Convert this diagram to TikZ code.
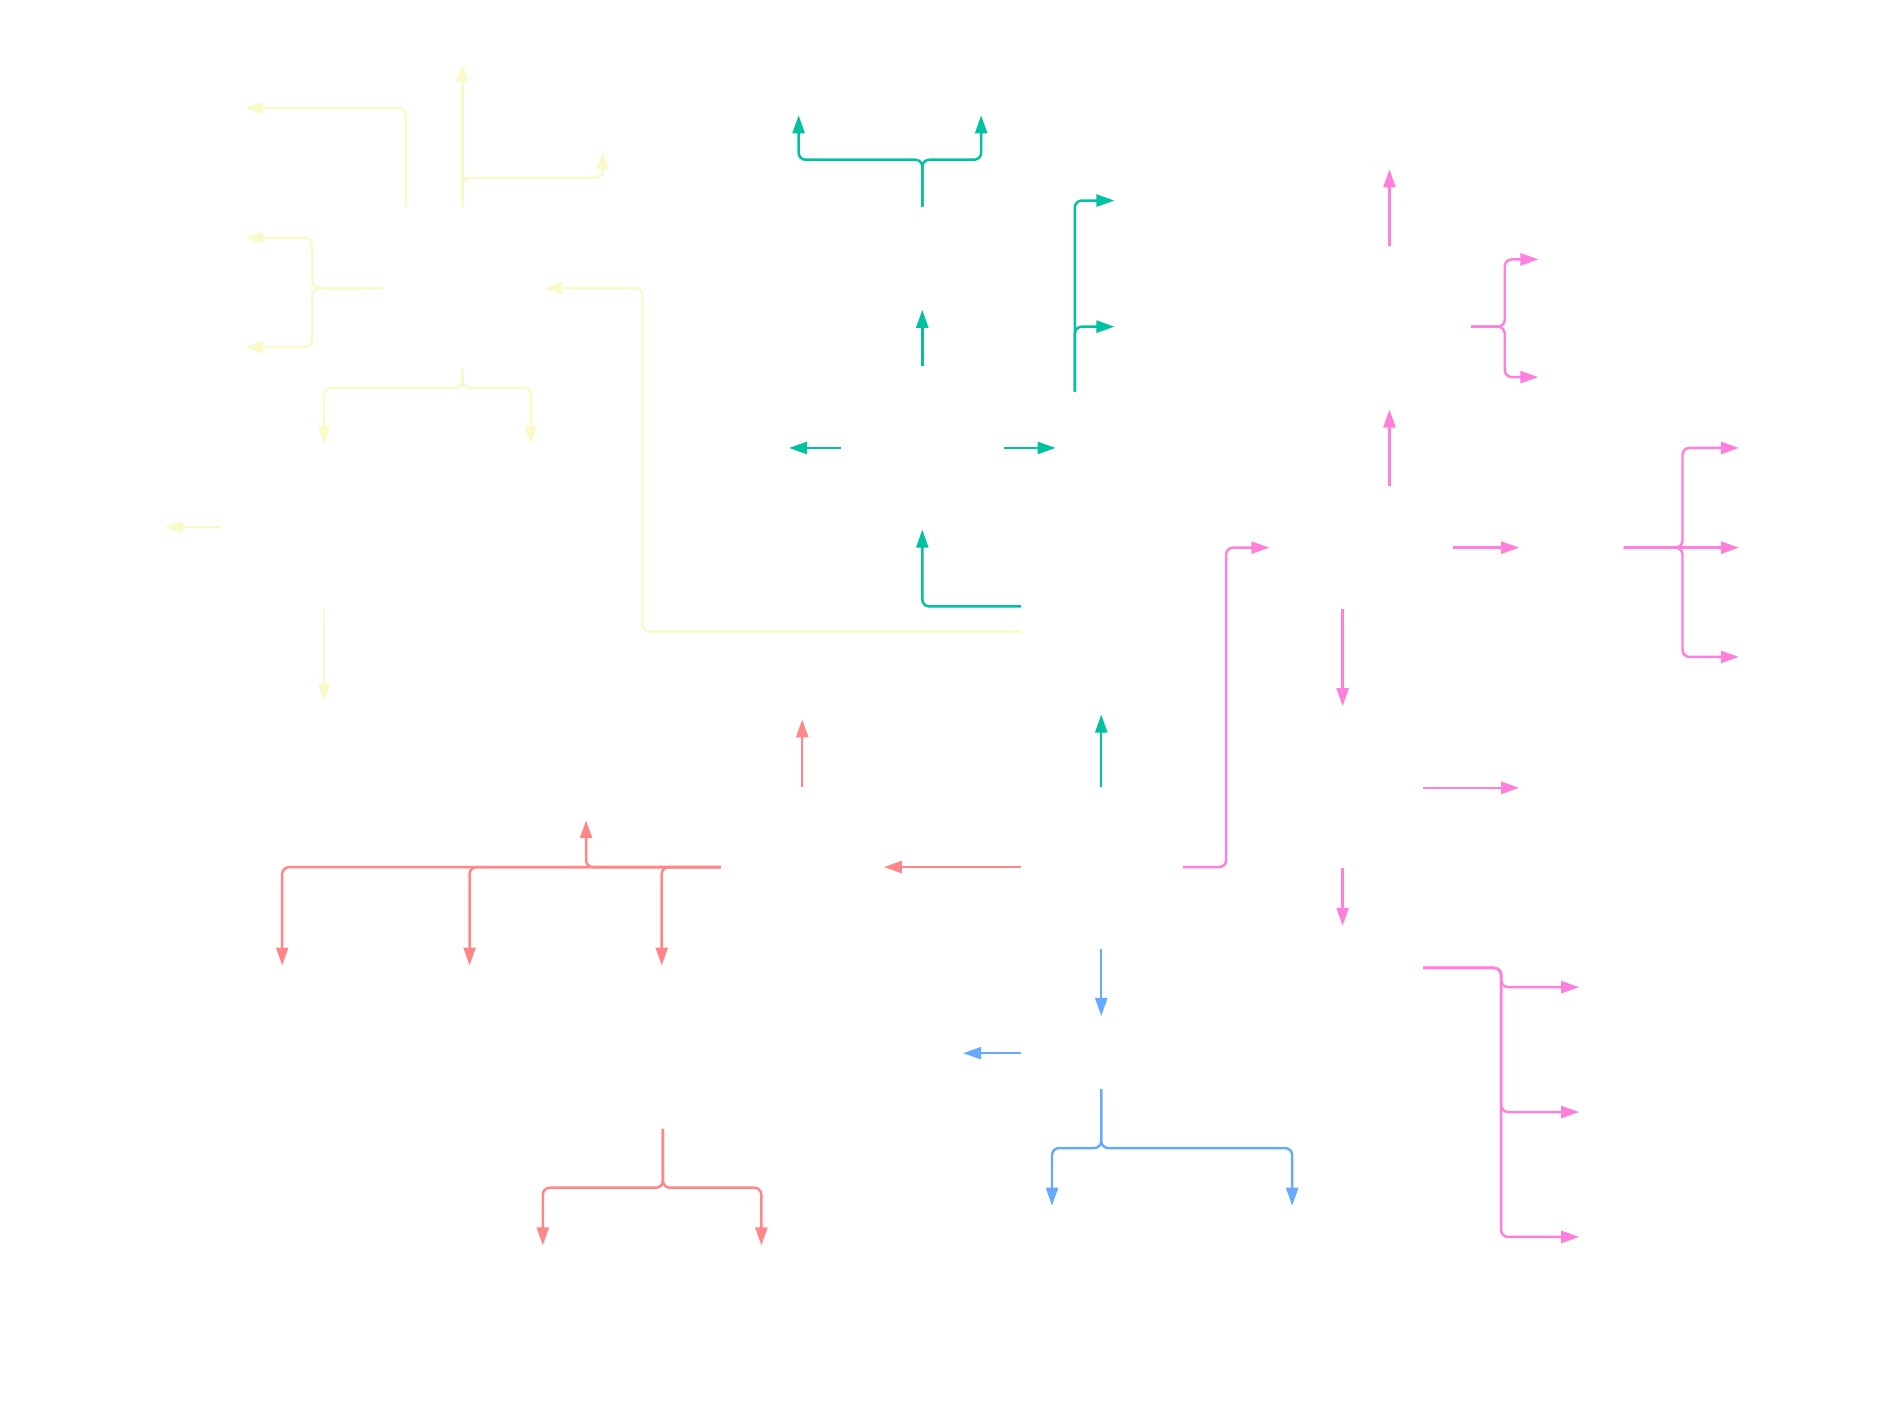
\documentclass[tikz,border=0pt]{standalone}
\usetikzlibrary{arrows.meta}
\definecolor{cYellow}{RGB}{250,250,200}
\definecolor{cTeal}{RGB}{0,194,163}
\definecolor{cRed}{RGB}{255,135,135}
\definecolor{cBlue}{RGB}{102,170,255}
\definecolor{cPink}{RGB}{255,128,220}
\begin{document}
\begin{tikzpicture}[x=0.012009cm,y=-0.012009cm,
  link/.style={line width=0.7pt, rounded corners=0.07cm,
    -{Triangle[length=0.18cm,width=0.12cm]}},
  ylink/.style={link, draw=cYellow, fill=none},
  tlink/.style={link, draw=cTeal},
  rlink/.style={link, draw=cRed},
  blink/.style={link, draw=cBlue},
  plink/.style={link, draw=cPink}]
\useasboundingbox (0,0) rectangle (1568,1174);

% ---------- yellow branch ----------
\coordinate (yA) at (338,172);  \coordinate (yA1) at (204,90);
\coordinate (yB) at (385,172);  \coordinate (yB1) at (385,53);  \coordinate (yB2) at (502,126);
\coordinate (yC) at (318,240);  \coordinate (yC1) at (204,198); \coordinate (yC2) at (204,289);
\coordinate (yD) at (385,307);  \coordinate (yD1) at (270,370); \coordinate (yD2) at (442,370);
\coordinate (yE) at (184,439);  \coordinate (yE1) at (137,439);
\coordinate (yF) at (270,507);  \coordinate (yF1) at (270,584);
\coordinate (yG) at (850,526);  \coordinate (yG1) at (453,240);
\draw[ylink] (yA) |- (yA1);
\draw[ylink] (yB) -- (yB1);
\draw[ylink] (yB) -- ++(0,-24) -| (yB2);
\draw[ylink] (yC) -- ++(-58,0) |- (yC1);
\draw[ylink] (yC) -- ++(-58,0) |- (yC2);
\draw[ylink] (yD) -- ++(0,16) -| (yD1);
\draw[ylink] (yD) -- ++(0,16) -| (yD2);
\draw[ylink] (yE) -- (yE1);
\draw[ylink] (yF) -- (yF1);
\draw[ylink] (yG) -- ++(-315,0) |- (yG1);

% ---------- teal branch ----------
\coordinate (tA) at (768,172);  \coordinate (tA1) at (665,96);  \coordinate (tA2) at (817,96);
\coordinate (tB) at (768,305);  \coordinate (tB1) at (768,258);
\coordinate (tC) at (895,326);  \coordinate (tC1) at (928,167); \coordinate (tC2) at (928,272);
\coordinate (tD) at (700,373);  \coordinate (tD1) at (657,373);
\coordinate (tE) at (836,373);  \coordinate (tE1) at (879,373);
\coordinate (tF) at (850,505);  \coordinate (tF1) at (768,441);
\coordinate (tG) at (917,655);  \coordinate (tG1) at (917,595);
\draw[tlink] (tA) -- ++(0,-39) -| (tA1);
\draw[tlink] (tA) -- ++(0,-39) -| (tA2);
\draw[tlink] (tB) -- (tB1);
\draw[tlink] (tC) |- (tC1);
\draw[tlink] (tC) |- (tC2);
\draw[tlink] (tD) -- (tD1);
\draw[tlink] (tE) -- (tE1);
\draw[tlink] (tF) -| (tF1);
\draw[tlink] (tG) -- (tG1);

% ---------- red branch ----------
\coordinate (rA) at (668,655);  \coordinate (rA1) at (668,599);
\coordinate (rB) at (850,722);  \coordinate (rB1) at (736,722);
\coordinate (rC) at (600,722);  \coordinate (rC1) at (235,804); \coordinate (rC2) at (391,804);
\coordinate (rC3) at (551,804); \coordinate (rC4) at (488,683);
\coordinate (rD) at (552,940);  \coordinate (rD1) at (452,1037); \coordinate (rD2) at (634,1037);
\draw[rlink] (rA) -- (rA1);
\draw[rlink] (rB) -- (rB1);
\draw[rlink] (rC) -| (rC1);
\draw[rlink] (rC) -| (rC2);
\draw[rlink] (rC) -| (rC3);
\draw[rlink] (rC) -| (rC4);
\draw[rlink] (rD) -- ++(0,49) -| (rD1);
\draw[rlink] (rD) -- ++(0,49) -| (rD2);

% ---------- blue branch ----------
\coordinate (bA) at (917,790);  \coordinate (bA1) at (917,846);
\coordinate (bB) at (850,877);  \coordinate (bB1) at (802,877);
\coordinate (bC) at (917,907);  \coordinate (bC1) at (876,1004); \coordinate (bC2) at (1076,1004);
\draw[blink] (bA) -- (bA1);
\draw[blink] (bB) -- (bB1);
\draw[blink] (bC) -- ++(0,49) -| (bC1);
\draw[blink] (bC) -- ++(0,49) -| (bC2);

% ---------- pink branch ----------
\coordinate (pA) at (985,722);  \coordinate (pA1) at (1057,456);
\coordinate (pB) at (1157,205); \coordinate (pB1) at (1157,141);
\coordinate (pC) at (1225,272); \coordinate (pC1) at (1281,216); \coordinate (pC2) at (1281,314);
\coordinate (pD) at (1157,405); \coordinate (pD1) at (1157,341);
\coordinate (pE) at (1210,456); \coordinate (pE1) at (1265,456);
\coordinate (pF) at (1352,456); \coordinate (pF1) at (1448,373); \coordinate (pF2) at (1448,456);
\coordinate (pF3) at (1448,547);
\coordinate (pG) at (1118,507); \coordinate (pG1) at (1118,588);
\coordinate (pH) at (1185,656); \coordinate (pH1) at (1265,656);
\coordinate (pI) at (1118,723); \coordinate (pI1) at (1118,771);
\coordinate (pJ) at (1185,806); \coordinate (pJ1) at (1315,822); \coordinate (pJ2) at (1315,926);
\coordinate (pJ3) at (1315,1030);
\draw[plink] (pA) -- ++(36,0) |- (pA1);
\draw[plink] (pB) -- (pB1);
\draw[plink] (pC) -- ++(28,0) |- (pC1);
\draw[plink] (pC) -- ++(28,0) |- (pC2);
\draw[plink] (pD) -- (pD1);
\draw[plink] (pE) -- (pE1);
\draw[plink] (pF) -- ++(49,0) |- (pF1);
\draw[plink] (pF) -- (pF2);
\draw[plink] (pF) -- ++(49,0) |- (pF3);
\draw[plink] (pG) -- (pG1);
\draw[plink] (pH) -- (pH1);
\draw[plink] (pI) -- (pI1);
\draw[plink] (pJ) -- ++(65,0) |- (pJ1);
\draw[plink] (pJ) -- ++(65,0) |- (pJ2);
\draw[plink] (pJ) -- ++(65,0) |- (pJ3);
\end{tikzpicture}
\end{document}
